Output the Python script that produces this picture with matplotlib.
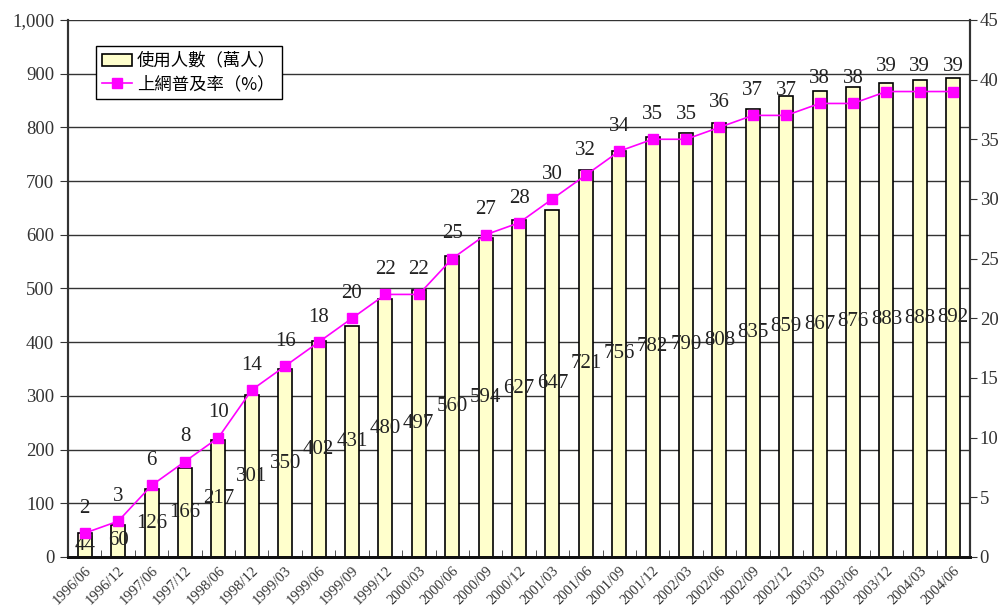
import matplotlib
matplotlib.use("Agg")
import matplotlib.pyplot as plt
from matplotlib.ticker import FuncFormatter, MultipleLocator, FixedLocator

# 資料
dates = ["1996/06", "1996/12", "1997/06", "1997/12", "1998/06", "1998/12",
         "1999/03", "1999/06", "1999/09", "1999/12", "2000/03", "2000/06",
         "2000/09", "2000/12", "2001/03", "2001/06", "2001/09", "2001/12",
         "2002/03", "2002/06", "2002/09", "2002/12", "2003/03", "2003/06",
         "2003/12", "2004/03", "2004/06"]
users = [44, 60, 126, 166, 217, 301, 350, 402, 431, 480, 497, 560, 594, 627,
         647, 721, 756, 782, 790, 808, 835, 859, 867, 876, 883, 888, 892]
rate = [2, 3, 6, 8, 10, 14, 16, 18, 20, 22, 22, 25, 27, 28, 30, 32, 34, 35,
        35, 36, 37, 37, 38, 38, 39, 39, 39]

plt.rcParams['font.family'] = ['Liberation Serif', 'Noto Sans CJK TC', 'DejaVu Sans']

fig = plt.figure(figsize=(10.01, 6.11), dpi=100)
ax = fig.add_axes([0.068, 0.0884, 0.901, 0.879])
ax2 = ax.twinx()

x = list(range(len(dates)))

# 格線
for v in range(100, 1001, 100):
    ax.axhline(v, color="#333333", lw=1, zorder=0)

bars = ax.bar(x, users, width=0.42, color="#FFFFCC", edgecolor="black",
              lw=1.2, zorder=2)
for i, v in enumerate(users):
    ax.text(i, v / 2, str(v), ha="center", va="center", fontsize=15,
            color="#222222", zorder=5)

line, = ax2.plot(x, rate, color="#FF00FF", marker="s", markersize=7,
                 lw=1.2, zorder=4)
for i, v in enumerate(rate):
    ax2.annotate(str(v), (i, v), xytext=(0, 11), textcoords="offset points",
                 ha="center", va="bottom", fontsize=15, color="#222222")

ax.set_xlim(-0.5, len(dates) - 0.5)
ax.set_ylim(0, 1000)
ax2.set_ylim(0, 45)
ax.yaxis.set_major_locator(MultipleLocator(100))
ax.yaxis.set_major_formatter(FuncFormatter(lambda v, p: f"{int(v):,}"))
ax2.yaxis.set_major_locator(MultipleLocator(5))

ax.set_xticks(x)
ax.set_xticklabels(dates, rotation=45, ha="right", rotation_mode="anchor",
                   fontsize=10.5, color="#333333")
ax.tick_params(axis="x", length=0, pad=5)
ax.xaxis.set_minor_locator(FixedLocator([i + 0.5 for i in x[:-1]]))
ax.tick_params(axis="x", which="minor", direction="in", length=5, color="#333333")
ax.tick_params(axis="y", labelsize=13.5, length=6, color="#333333",
               labelcolor="#333333", pad=4)
ax2.tick_params(axis="y", labelsize=13.5, length=5, color="#333333",
                labelcolor="#333333", pad=2)

for a in (ax, ax2):
    a.spines["top"].set_visible(False)
    a.spines["left"].set_color("#333333")
    a.spines["right"].set_color("#333333")
    a.spines["bottom"].set_color("#111111")
    a.spines["left"].set_linewidth(1.5)
    a.spines["right"].set_linewidth(1.5)
    a.spines["bottom"].set_linewidth(2)

ax.set_zorder(ax2.get_zorder() - 1)
ax.patch.set_visible(True)
ax2.patch.set_visible(False)

leg = ax2.legend([bars, line], ["使用人數（萬人）", "上網普及率（%）"],
                 loc="upper left", bbox_to_anchor=(0.031, 0.952),
                 borderaxespad=0, fancybox=False, edgecolor="black",
                 framealpha=1, handlelength=1.7, borderpad=0.35,
                 labelspacing=0.3, handletextpad=0.3,
                 prop={'family': ['Noto Sans CJK TC'], 'size': 12.5})
leg.get_frame().set_linewidth(1)

plt.savefig("out.png", dpi=100)
plt.close()
